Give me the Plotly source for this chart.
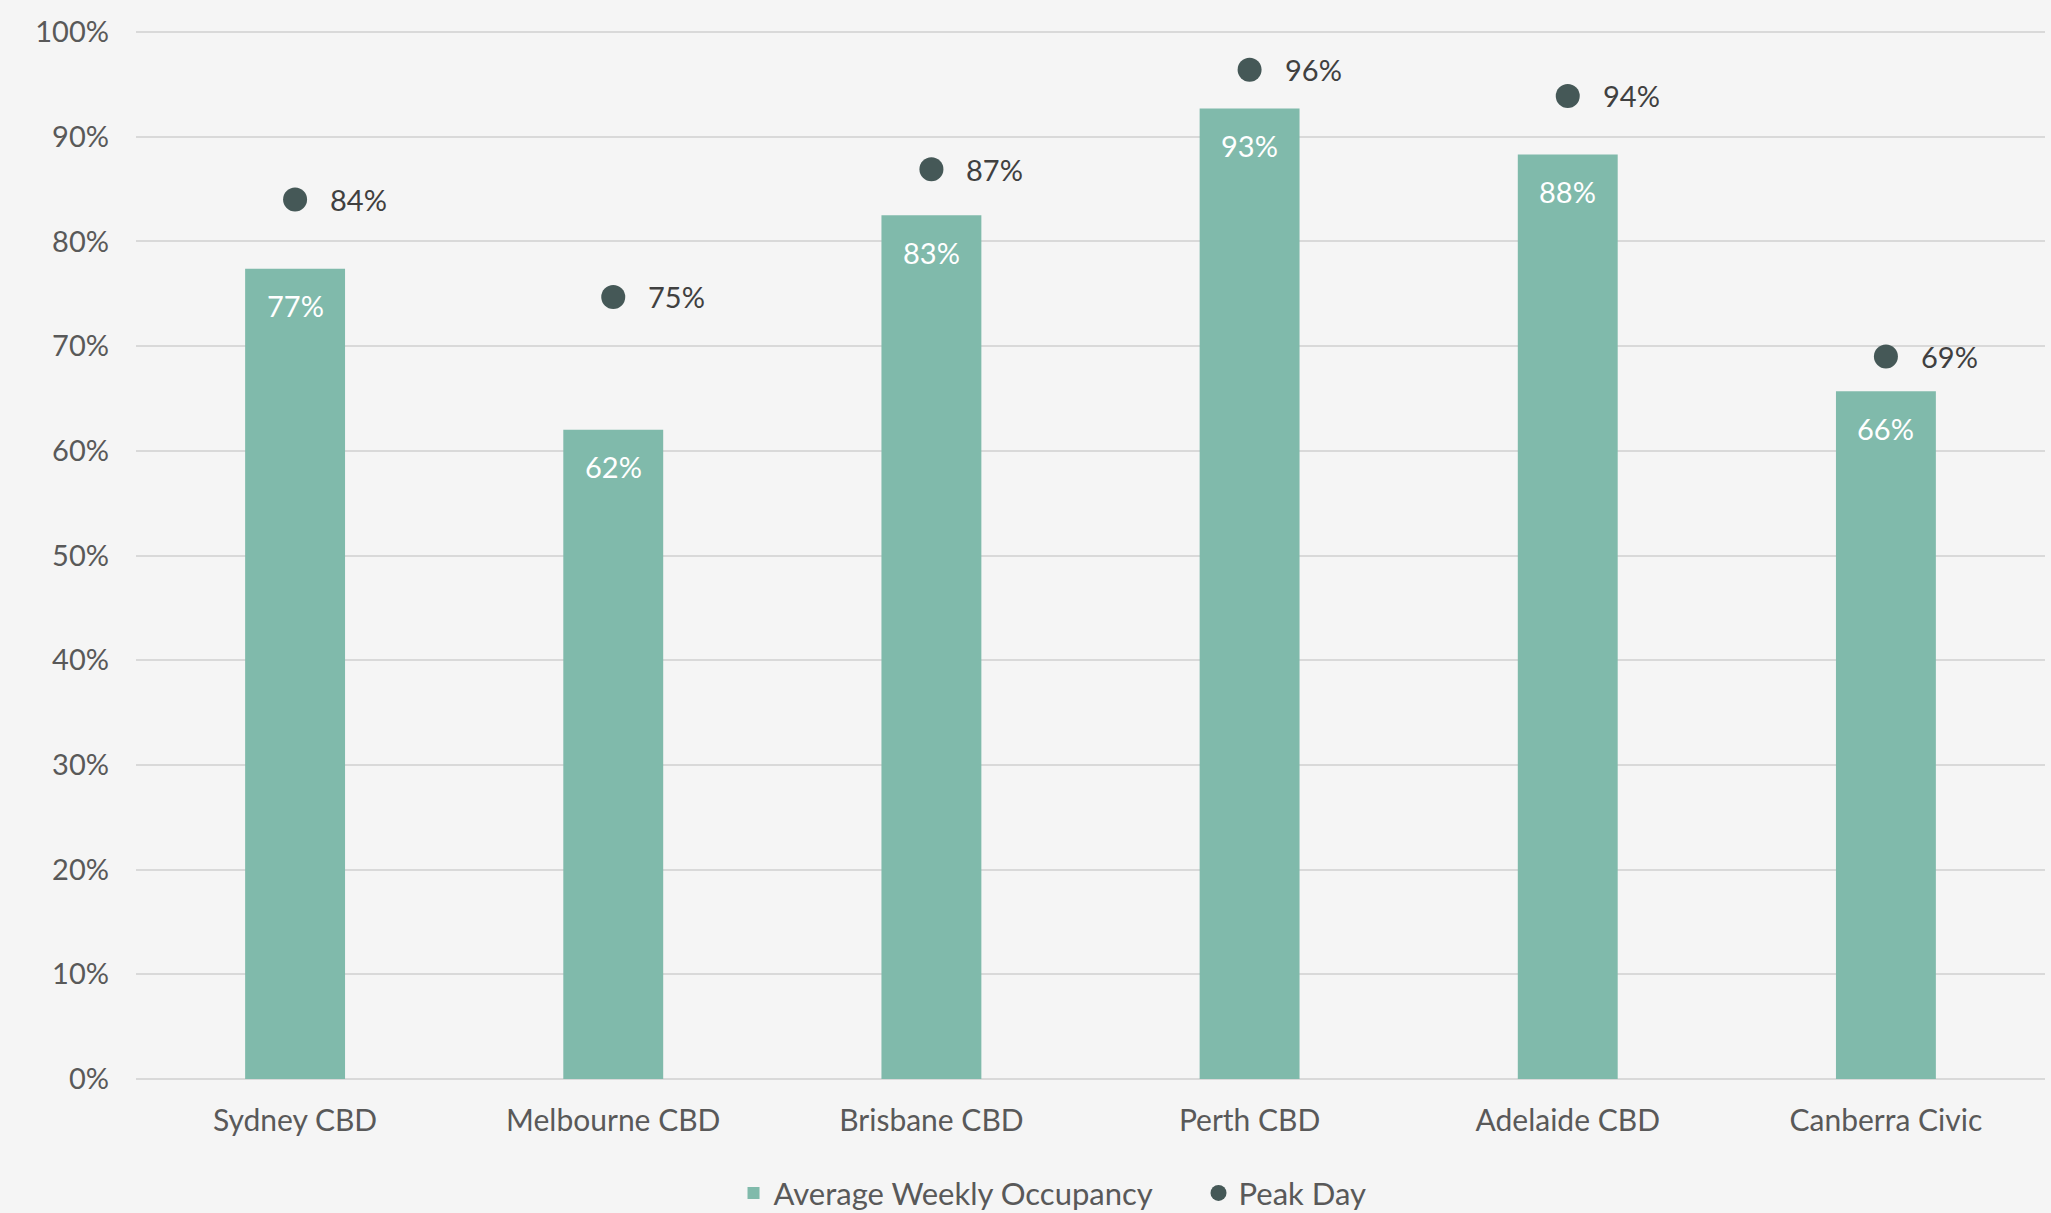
import plotly.graph_objects as go

categories = ["Sydney CBD", "Melbourne CBD", "Brisbane CBD", "Perth CBD", "Adelaide CBD", "Canberra Civic"]
avg_weekly = [77.4, 62.0, 82.5, 92.7, 88.3, 65.7]
peak_day = [84.0, 74.7, 86.9, 96.4, 93.9, 69.0]
avg_labels = ["77%", "62%", "83%", "93%", "88%", "66%"]
peak_labels = ["84%", "75%", "87%", "96%", "94%", "69%"]
y_ticks = [0, 10, 20, 30, 40, 50, 60, 70, 80, 90, 100]
y_tick_labels = ["0%", "10%", "20%", "30%", "40%", "50%", "60%", "70%", "80%", "90%", "100%"]

BAR = "#80BAAB"
DOT = "#455857"
FONT = "Lato, Carlito, 'Open Sans', sans-serif"

fig = go.Figure()
fig.add_trace(go.Bar(
    x=categories, y=avg_weekly, name="Average Weekly Occupancy",
    marker=dict(color=BAR, line=dict(width=0)),
    hoverinfo="skip",
))
fig.add_trace(go.Scatter(
    x=categories, y=peak_day, name="Peak Day", mode="markers",
    marker=dict(color=DOT, size=24, line=dict(width=0)),
    hoverinfo="skip",
))

for c, v, t in zip(categories, avg_weekly, avg_labels):
    fig.add_annotation(x=c, y=v, text=t, showarrow=False, yshift=-37,
                       font=dict(family=FONT, size=29, color="#FFFFFF"),
                       xanchor="center", yanchor="middle")
for c, v, t in zip(categories, peak_day, peak_labels):
    fig.add_annotation(x=c, y=v, text=t, showarrow=False, xshift=33,
                       font=dict(family=FONT, size=29, color="#404040"),
                       xanchor="left", yanchor="middle")

fig.update_layout(
    width=2051, height=1213, autosize=False,
    margin=dict(l=136, r=6, t=31, b=133, autoexpand=False),
    paper_bgcolor="#F5F5F5", plot_bgcolor="#F5F5F5",
    bargap=0.686,
    font=dict(family=FONT, size=29, color="#595959"),
    showlegend=True,
    legend=dict(orientation="h", x=0.313, xanchor="left", y=-0.108, yanchor="middle",
                font=dict(family=FONT, size=31, color="#595959"),
                bgcolor="rgba(0,0,0,0)", itemwidth=30, traceorder="normal",
                entrywidth=420, entrywidthmode="pixels"),
    xaxis=dict(showgrid=False, showline=False, zeroline=False, ticks="",
               ticklabelstandoff=20, tickfont=dict(family=FONT, size=30, color="#595959")),
    yaxis=dict(range=[-0.1, 100.1], tickvals=y_ticks, ticktext=y_tick_labels,
               showgrid=True, gridcolor="#D9D9D9", gridwidth=2, zeroline=False, showline=False,
               ticks="", ticklabelstandoff=26, tickfont=dict(family=FONT, size=29, color="#595959")),
)

fig.write_html("out.html")
